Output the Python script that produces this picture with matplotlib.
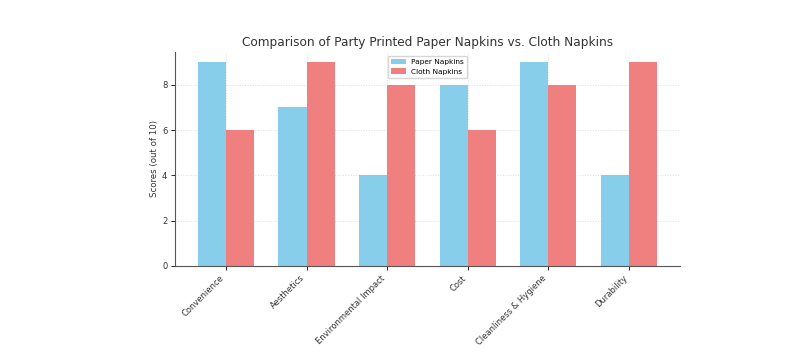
import matplotlib.pyplot as plt
import numpy as np

categories = ["Convenience", "Aesthetics", "Environmental Impact", "Cost",
              "Cleanliness & Hygiene", "Durability"]
paper_scores = [9, 7, 4, 8, 9, 4]
cloth_scores = [6, 9, 8, 6, 8, 9]

x = np.arange(len(categories))
width = 0.35

fig = plt.figure(figsize=(7.99, 3.54), dpi=100)
ax = fig.add_axes([0.219, 0.249, 0.632, 0.604])
ax.bar(x - width / 2, paper_scores, width, label="Paper Napkins", color="skyblue")
ax.bar(x + width / 2, cloth_scores, width, label="Cloth Napkins", color="lightcoral")

ax.set_ylabel("Scores (out of 10)", fontsize=6.2, color="#333333", labelpad=2)
ax.set_title("Comparison of Party Printed Paper Napkins vs. Cloth Napkins",
             fontsize=8.7, color="#333333", pad=4)
ax.set_xticks(x)
ax.set_xticklabels(categories, rotation=45, ha="right", fontsize=6, color="#333333")
ax.tick_params(axis="y", labelsize=6, labelcolor="#333333")
ax.tick_params(length=3, width=0.6, pad=2.5)
ax.legend(loc="upper center", fontsize=5.3)
ax.grid(True, linestyle=":", color="#dddddd", linewidth=0.7)
ax.set_axisbelow(True)
ax.spines["top"].set_visible(False)
ax.spines["right"].set_visible(False)
ax.spines["left"].set_color("#555555")
ax.spines["bottom"].set_color("#555555")

fig.savefig("out.png", dpi=100)
